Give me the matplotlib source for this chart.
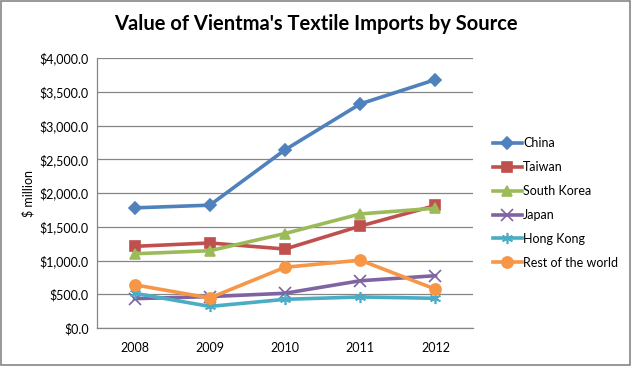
import matplotlib
matplotlib.use("Agg")
import matplotlib.pyplot as plt
from matplotlib.ticker import FuncFormatter

years = ["2008", "2009", "2010", "2011", "2012"]
china = [1780, 1820, 2640, 3320, 3680]
taiwan = [1210, 1260, 1170, 1510, 1815]
south_korea = [1100, 1145, 1400, 1690, 1775]
japan = [435, 465, 515, 700, 775]
hong_kong = [515, 320, 425, 460, 440]
rest = [640, 445, 900, 1005, 575]

series = [
    ("China", china, "#4F81BD", "D", 6),
    ("Taiwan", taiwan, "#C0504D", "s", 7.5),
    ("South Korea", south_korea, "#9BBB59", "^", 7.5),
    ("Japan", japan, "#8064A2", "x", 8),
    ("Hong Kong", hong_kong, "#4BACC6", (6, 2, 0), 8),
    ("Rest of the world", rest, "#F79646", "o", 8),
]

plt.rcParams['font.family'] = ['Lato', 'DejaVu Sans']

fig = plt.figure(figsize=(6.32, 3.66), dpi=100)
fig.patch.set_facecolor("white")
ax = fig.add_axes([0.1535, 0.1038, 0.595, 0.7377])

x = list(range(len(years)))
for name, vals, color, marker, ms in series:
    ax.plot(x, vals, color=color, lw=2.6, marker=marker, markersize=ms,
            markeredgecolor=color, markerfacecolor=color, mew=1.2, label=name)

ax.set_xlim(-0.5, len(years) - 0.5)
ax.set_ylim(0, 4000)
ax.set_yticks(range(0, 4001, 500))
ax.yaxis.set_major_formatter(FuncFormatter(lambda v, p: "${:,.1f}".format(v)))
ax.set_xticks(x)
ax.set_xticklabels(years)
ax.tick_params(axis="both", length=0, labelsize=9, colors="black")
ax.tick_params(axis="x", pad=10)
ax.tick_params(axis="y", pad=6)
ax.grid(axis="y", color="#868686", lw=0.9)
ax.set_axisbelow(True)
for s in ["top", "right"]:
    ax.spines[s].set_visible(False)
for s in ["left", "bottom"]:
    ax.spines[s].set_color("#868686")
    ax.spines[s].set_linewidth(0.9)

ax.set_ylabel("$ million", fontsize=9)
ax.yaxis.set_label_coords(-0.165, 0.5)

fig.text(0.5, 0.935, "Value of Vientma's Textile Imports by Source",
         ha="center", va="center", fontsize=14.5, fontweight="bold")

leg = ax.legend(loc="upper left", bbox_to_anchor=(1.04, 0.725), frameon=False,
                fontsize=9, handlelength=2.3, handletextpad=0.1,
                labelspacing=0.95, borderaxespad=0)

fig.add_artist(plt.Rectangle((0.002, 0.003), 0.995, 0.994, transform=fig.transFigure,
                             fill=False, edgecolor="#868686", lw=1.2))

fig.savefig("out.png", dpi=100)
